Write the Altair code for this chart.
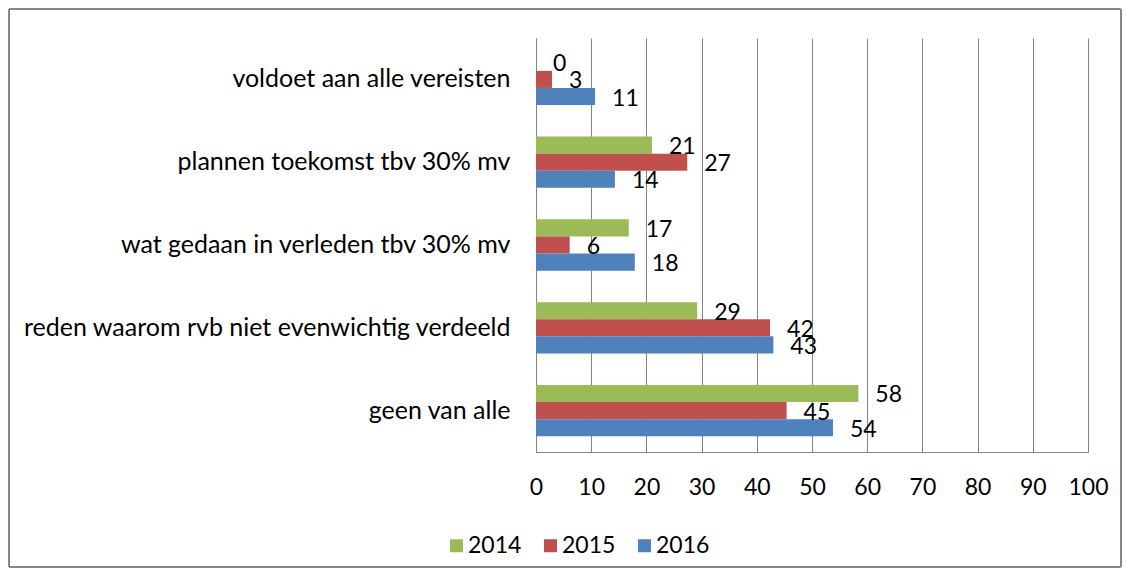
import altair as alt
import pandas as pd

categories = [
    "voldoet aan alle vereisten",
    "plannen toekomst tbv 30% mv",
    "wat gedaan in verleden tbv 30%  mv",
    "reden waarom rvb niet evenwichtig verdeeld",
    "geen van alle",
]
years = ["2014", "2015", "2016"]
values_2014 = [0, 21.0, 16.8, 29.2, 58.4]
values_2015 = [2.9, 27.4, 6.1, 42.4, 45.4]
values_2016 = [10.7, 14.3, 17.9, 43.0, 53.8]
colors = ["#9BBB59", "#C0504D", "#4F81BD"]

rows = []
for yr, vals in zip(years, [values_2014, values_2015, values_2016]):
    for c, v in zip(categories, vals):
        rows.append({"category": c, "year": yr, "value": v})
df = pd.DataFrame(rows)

FONT = "Lato"
NUM = 23
base = alt.Chart(df)

bars = base.mark_bar().encode(
    x=alt.X("value:Q", scale=alt.Scale(domain=[0, 100], nice=False),
            axis=alt.Axis(values=list(range(0, 101, 10)), title=None, grid=True,
                          gridColor="#868686", gridWidth=1, domainColor="#868686",
                          ticks=False, labelFontSize=NUM, labelFont=FONT,
                          labelColor="black", labelPadding=24, labelFlush=False)),
    y=alt.Y("category:N", sort=categories,
            scale=alt.Scale(paddingInner=0.38, paddingOuter=0.19),
            axis=alt.Axis(title=None, ticks=False, domainColor="#868686",
                          labelFontSize=25, labelFont=FONT, labelColor="black",
                          labelPadding=26, labelLimit=0)),
    yOffset=alt.YOffset("year:N", sort=years, scale=alt.Scale(paddingInner=0, paddingOuter=0)),
    color=alt.Color("year:N", sort=years, scale=alt.Scale(domain=years, range=colors),
                    legend=alt.Legend(title=None, orient="none", direction="horizontal",
                                      legendX=-91, legendY=496, symbolType="square",
                                      symbolSize=169, symbolStrokeWidth=0,
                                      labelFontSize=NUM, labelFont=FONT,
                                      labelColor="black", columnPadding=17,
                                      labelOffset=0, symbolOpacity=1)),
)

labels = base.mark_text(align="left", baseline="middle", dx=17, dy=2,
                        fontSize=NUM, font=FONT, color="black").encode(
    x="value:Q",
    y=alt.Y("category:N", sort=categories),
    yOffset=alt.YOffset("year:N", sort=years),
    text=alt.Text("value:Q", format=".0f"),
)

one = alt.Data(values=[{"k": 1}])
BL, BR, BT, BB = -527, 585, -29, 529
frame_style = dict(color="#878787", strokeWidth=2)
left_edge = alt.Chart(one).mark_rule(**frame_style).encode(
    x=alt.value(BL), y=alt.value(BT), y2=alt.value(BB))
right_edge = alt.Chart(one).mark_rule(**frame_style).encode(
    x=alt.value(BR), y=alt.value(BT), y2=alt.value(BB))
top_edge = alt.Chart(one).mark_rule(**frame_style).encode(
    y=alt.value(BT), x=alt.value(BL), x2=alt.value(BR))
bottom_edge = alt.Chart(one).mark_rule(**frame_style).encode(
    y=alt.value(BB), x=alt.value(BL), x2=alt.value(BR))

chart = alt.layer(bars, labels, left_edge, right_edge, top_edge, bottom_edge).properties(
    width=552, height=414,
    autosize=alt.AutoSizeParams(type="none"),
    padding={"left": 528, "top": 30, "right": 36, "bottom": 117},
).configure_view(stroke=None)

chart.save("out.html", embed_options={"renderer": "svg", "actions": False})
